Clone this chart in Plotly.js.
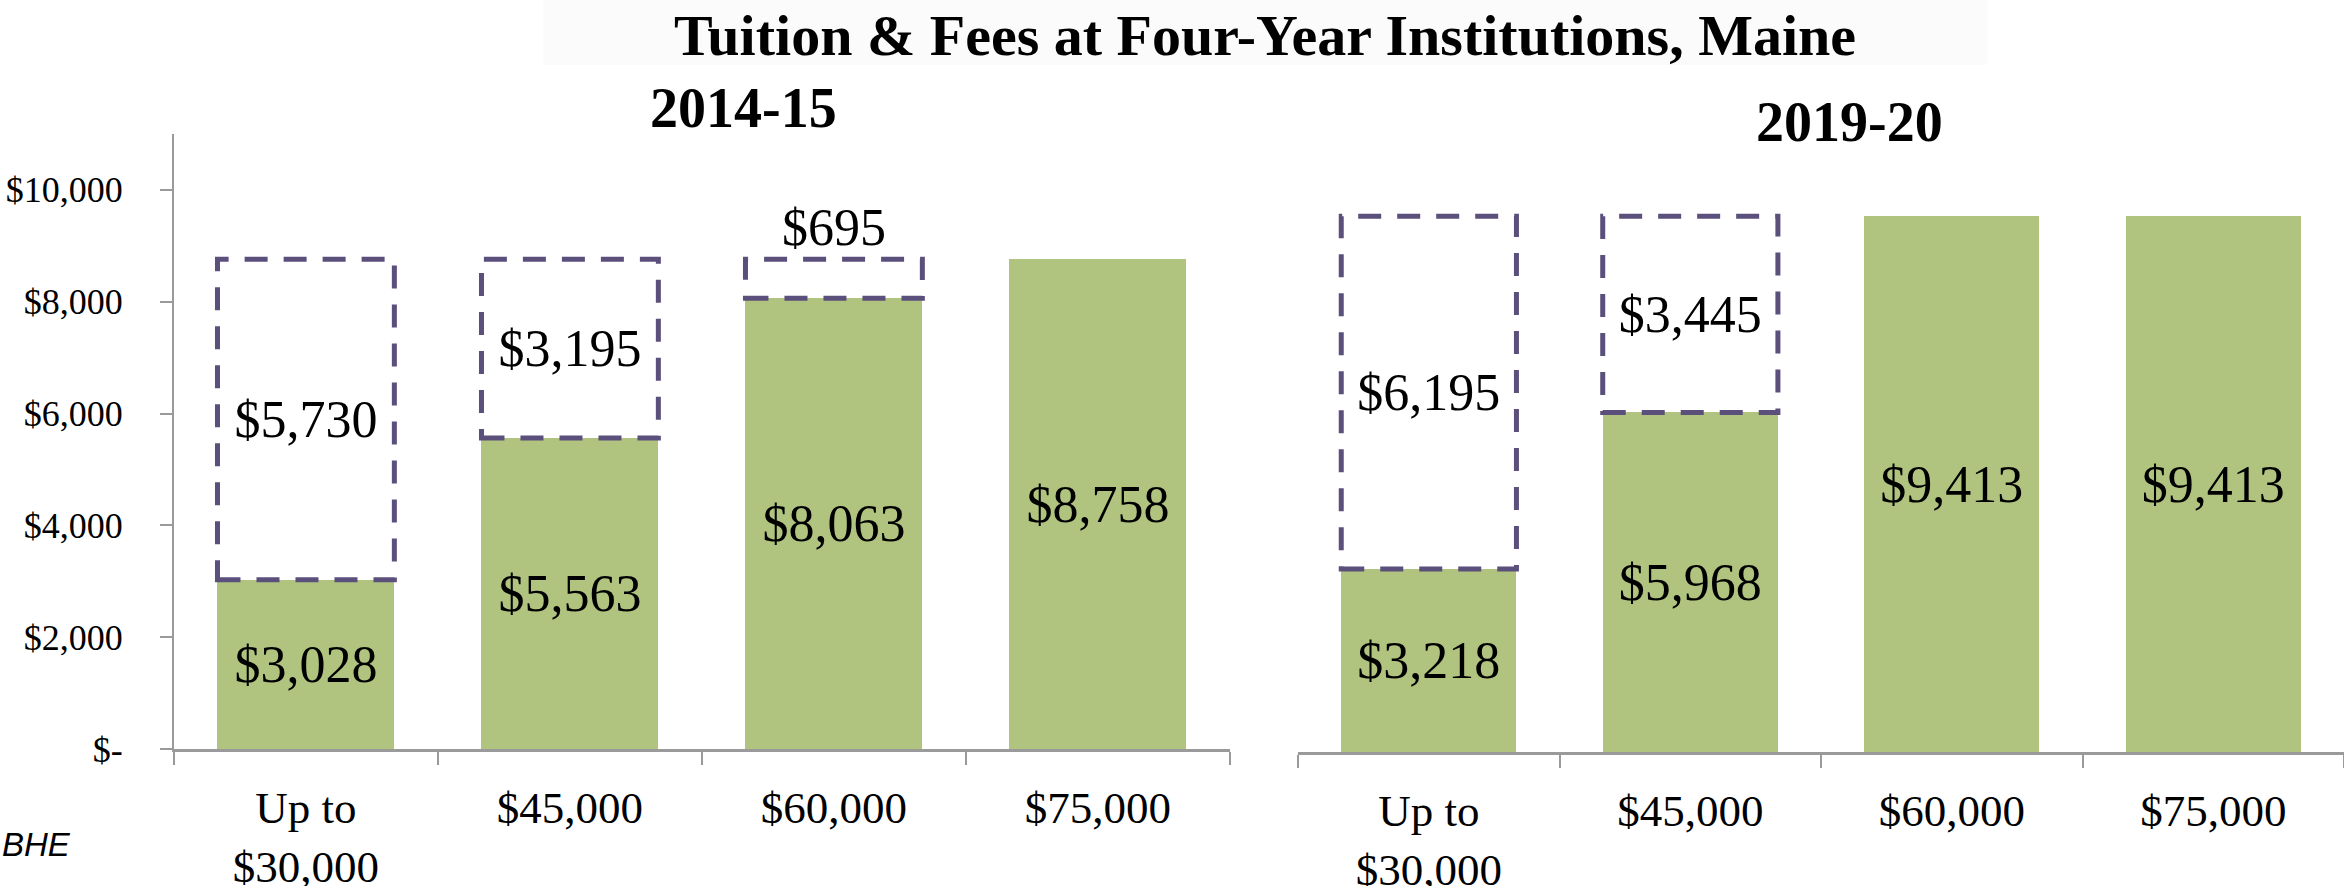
<!DOCTYPE html>
<html>
<head>
<meta charset="utf-8">
<script src="https://cdn.plot.ly/plotly-3.0.1.min.js"></script>
<style>html,body{margin:0;padding:0;background:#fff;}#chart{width:2344px;height:886px;}</style>
</head>
<body>
<div id="chart"></div>
<script>
// ---- data ----
const categories = ["Up to<br>$30,000", "$45,000", "$60,000", "$75,000"];
const tuition1415 = [3028, 5563, 8063, 8758];
const gap1415 = [5730, 3195, 695, 0];
const tuition1920 = [3218, 5968, 9413, 9413];
const gap1920 = [6195, 3445, 0, 0];
const yTickVals = [0, 2000, 4000, 6000, 8000, 10000];
const yTickText = ["$-", "$2,000", "$4,000", "$6,000", "$8,000", "$10,000"];
const mainTitle = "Tuition & Fees at Four-Year Institutions, Maine";
const panelTitles = ["2014-15", "2019-20"];
const sourceText = "BHE";

// ---- style ----
const GREEN = "#b0c47f";
const PURPLE = "#5b4f7c";
const AXIS = "#9a9a9a";
const SERIF = "Liberation Serif, Times New Roman, serif";
const BARGAP = 0.33;
const LABEL_SIZE = 52;

const fmt = v => "$" + v.toLocaleString("en-US");

function greenTrace(vals, xa, ya) {
  return {
    type: "bar", x: categories, y: vals, xaxis: xa, yaxis: ya,
    marker: {color: GREEN, line: {width: 0}},
    text: vals.map(fmt), textposition: "inside", insidetextanchor: "middle",
    textfont: {family: SERIF, size: LABEL_SIZE, color: "#000"},
    insidetextfont: {family: SERIF, size: LABEL_SIZE, color: "#000"},
    hoverinfo: "none", cliponaxis: false
  };
}
function gapTrace(vals, xa, ya) {
  return {
    type: "bar", x: categories, y: vals, xaxis: xa, yaxis: ya,
    marker: {color: "rgba(0,0,0,0)", line: {width: 0}},
    text: vals.map(v => v > 0 ? fmt(v) : ""),
    textposition: vals.map(v => v > 0 && v < 1000 ? "outside" : "inside"),
    insidetextanchor: "middle",
    textfont: {family: SERIF, size: LABEL_SIZE, color: "#000"},
    insidetextfont: {family: SERIF, size: LABEL_SIZE, color: "#000"},
    outsidetextfont: {family: SERIF, size: LABEL_SIZE, color: "#000"},
    hoverinfo: "none", cliponaxis: false
  };
}
function dashedBoxes(base, gap, xr, yr) {
  const out = [];
  const hw = (1 - BARGAP) / 2;
  gap.forEach((g, i) => {
    if (g > 0) out.push({
      type: "rect", xref: xr, yref: yr,
      x0: i - hw, x1: i + hw, y0: base[i], y1: base[i] + g,
      line: {color: PURPLE, width: 5, dash: "23px,16px"},
      fillcolor: "rgba(0,0,0,0)", layer: "above"
    });
  });
  return out;
}

const data = [
  greenTrace(tuition1415, "x", "y"),
  gapTrace(gap1415, "x", "y"),
  greenTrace(tuition1920, "x2", "y2"),
  gapTrace(gap1920, "x2", "y2")
];

const xCommon = {
  type: "category", tickson: "boundaries", ticks: "outside", ticklen: 13,
  tickwidth: 2, tickcolor: AXIS, showline: true, linecolor: AXIS, linewidth: 3,
  showgrid: false, zeroline: false, fixedrange: true, ticklabelstandoff: 17,
  tickfont: {family: SERIF, size: 45, color: "#000"}
};

const layout = {
  width: 2344, height: 886,
  margin: {l: 0, r: 0, t: 0, b: 0, pad: 0},
  paper_bgcolor: "#fff", plot_bgcolor: "rgba(0,0,0,0)",
  showlegend: false, barmode: "stack", bargap: BARGAP,
  xaxis: Object.assign({}, xCommon, {domain: [0.0742, 0.5247], anchor: "y"}),
  yaxis: {
    domain: [0.1546, 0.8488], range: [0, 11000], anchor: "x",
    tickvals: yTickVals, ticktext: yTickText,
    ticks: "outside", ticklen: 12, tickwidth: 2, tickcolor: AXIS,
    showline: true, linecolor: AXIS, linewidth: 2,
    showgrid: false, zeroline: false, ticklabelstandoff: 30,
    tickfont: {family: SERIF, size: 36, color: "#000"}
  },
  xaxis2: Object.assign({}, xCommon, {domain: [0.5538, 1.0], anchor: "y2"}),
  yaxis2: {
    domain: [0.1512, 0.8578], range: [0, 11000], anchor: "x2",
    visible: false, showgrid: false, zeroline: false
  },
  shapes: [
    {type: "rect", xref: "paper", yref: "paper", x0: 0.2317, x1: 0.8477, y0: 0.9266, y1: 1,
     fillcolor: "#fbfbfb", line: {width: 0}, layer: "below"}
  ].concat(dashedBoxes(tuition1415, gap1415, "x", "y"))
   .concat(dashedBoxes(tuition1920, gap1920, "x2", "y2")),
  annotations: [
    {text: "<b>" + mainTitle + "</b>", xref: "paper", yref: "paper", x: 0.5397, y: 0.96,
     xanchor: "center", yanchor: "middle", showarrow: false,
     font: {family: SERIF, size: 58, color: "#000"}},
    {text: "<b>" + panelTitles[0] + "</b>", xref: "paper", yref: "paper", x: 0.3174, y: 0.878,
     xanchor: "center", yanchor: "middle", showarrow: false,
     font: {family: SERIF, size: 56, color: "#000"}},
    {text: "<b>" + panelTitles[1] + "</b>", xref: "paper", yref: "paper", x: 0.7892, y: 0.8623,
     xanchor: "center", yanchor: "middle", showarrow: false,
     font: {family: SERIF, size: 56, color: "#000"}},
    {text: "<i>" + sourceText + "</i>", xref: "paper", yref: "paper", x: 0, y: 0.0474,
     xanchor: "left", yanchor: "middle", showarrow: false,
     font: {family: "Liberation Sans Narrow, Liberation Sans, Arial, sans-serif", size: 33, color: "#000"}}
  ]
};

Plotly.newPlot("chart", data, layout, {staticPlot: true, displayModeBar: false});
</script>
</body>
</html>
